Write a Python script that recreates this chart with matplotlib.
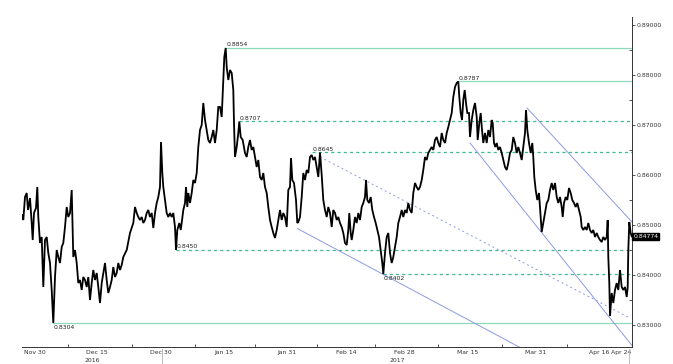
import matplotlib
matplotlib.use("Agg")
import matplotlib.pyplot as plt
import matplotlib.transforms as mtrans
from matplotlib.ticker import FixedLocator

plt.rcParams['font.family'] = ['DejaVu Sans']

# ---- price series (chart time index, EUR/GBP-like quote) ----
t = [0, 1.3, 3, 4.7, 6, 8, 9.7, 10.7, 12, 14, 15.3, 16.3, 18, 19.7, 21.3, 23, 24.7, 26.3, 28, 29.7,
     31.3, 33, 34.7, 36.3, 38, 39.7, 41.3, 43, 44.7, 46.3, 48, 49.7, 50.7, 51.3, 53, 54.7, 56.3, 58,
     59.7, 61.3, 63, 64.7, 66.3, 68, 69.7, 71.3, 73, 74.7, 76.3, 78, 79.7, 81.3, 83, 84.7, 86.3, 88,
     89.7, 91.3, 93, 94.7, 96.3, 98, 99.7, 101.3,
     104.7, 108, 111.3, 113, 114.7, 116.3, 118, 119.7, 121.3, 123, 124.7, 126.3, 128, 129.7, 131.3,
     133, 134.7, 136.3, 138, 139, 140.3, 141.3, 143, 144.7, 146.3, 148, 149.7, 151.3, 153, 154, 155.3,
     157.3, 158.7, 159.7, 161.3, 163, 164, 165.3, 166.3, 168, 169.7, 171.3, 173, 174.7, 176.3, 178,
     179.7, 181.3, 183, 184.7, 186.3, 188, 189.7, 191.3, 193, 194.7, 196.3, 198, 199.7, 201.3, 202.3,
     203.7,
     204.7, 206.3, 208, 209.7, 211.3, 212, 213, 214.7, 216.3, 217.3, 218.7, 220.7, 223, 224.7, 226.3,
     228, 229.7, 231.3, 233, 234.7, 236.3, 238, 239.7, 241.3, 243, 244.7, 246.3, 248, 249.7, 251.3,
     253, 254.7, 256.3, 258, 259.7, 261.3, 263, 264.7, 266.3, 268, 269, 270.3, 272, 274, 275.3, 276.3,
     278, 279.7, 281.3, 283, 284.7, 286.3, 288, 289.7, 291.3, 293, 294.7, 296.3, 298, 299.7, 301.3,
     303,
     304.7, 306.3, 308, 309.7, 311.3, 313, 314.7, 316.3, 318, 319.7, 321.3, 323, 324.7, 326.3, 327.3,
     328.7, 329.7, 331.3, 333, 334.7, 336.3, 338, 339.7, 341.3, 343, 344, 345.3, 347, 348.7, 350.3,
     352, 353.7, 355.3, 357, 358.7, 360.3, 361.3, 363, 364.7, 366.3, 368, 369.7, 371.3, 373, 374.7,
     376.3, 378, 379.7, 381.3, 383, 384.7, 386.3, 388, 389.7, 391.3, 393, 394.7, 396.3, 398, 399.7,
     401.3, 403,
     404.7, 406.3, 408, 409.7, 411.3, 413, 414.7, 416.3, 418, 419.7, 421.3, 423, 424.7, 426.3, 428,
     429.7, 431.3, 433, 434.7, 436.3, 437.3, 438.7, 440, 441.3, 442.7, 444, 445.3, 447, 448, 449.7,
     451.3, 453, 454.7, 455.7, 457.3, 458.7, 460, 461.3, 463, 464.7, 466.3, 468, 469.7, 470.7, 472,
     473.3, 474.7, 476.3, 478, 479.7, 481.3, 483, 484.7, 486.3, 488, 489.7, 491.3, 493, 494.7, 496.3,
     498, 499.7, 501.3, 503,
     504, 505.3, 507, 508.7, 510.3, 511.3, 512.3, 513.7, 515.3, 517, 518.7, 519.7, 521.3, 523, 524.7,
     526.3, 528, 529.7, 531.3, 533, 534.7, 536.3, 538, 539.7, 540.7, 542, 543.7, 545.3, 547, 548.7,
     550.3, 552, 553.7, 555.3, 557, 558.7, 559.7, 561.3, 563, 564.7, 566.3, 568, 569.7, 571.3, 573,
     574.7, 576.3, 578, 579.7, 581.3, 583, 584.7, 585.7, 586.3, 587.3, 588, 589.7, 591.3, 593, 594.7,
     596.3, 598, 599.7, 601.3, 603, 604.7, 605.7, 606.3, 607.3, 608.7, 609.7]

price = [0.8520, 0.8510, 0.8556, 0.8564, 0.8530, 0.8554, 0.8504, 0.8470, 0.8524, 0.8534, 0.8576,
         0.8516, 0.8464, 0.8476, 0.8376, 0.8470, 0.8476, 0.8444, 0.8424, 0.8370, 0.8304, 0.8396,
         0.8450, 0.8436, 0.8424, 0.8456, 0.8464, 0.8496, 0.8536, 0.8516, 0.8524, 0.8570, 0.8484,
         0.8436, 0.8450, 0.8424, 0.8384, 0.8390, 0.8370, 0.8396, 0.8390, 0.8376, 0.8396, 0.8350,
         0.8384, 0.8410, 0.8390, 0.8404, 0.8376, 0.8344, 0.8384, 0.8404, 0.8424, 0.8390, 0.8364,
         0.8376, 0.8390, 0.8416, 0.8396, 0.8404, 0.8424, 0.8410, 0.8420, 0.8436,
         0.8450, 0.8484, 0.8504, 0.8536, 0.8524, 0.8516, 0.8510, 0.8516, 0.8504, 0.8510, 0.8524,
         0.8530, 0.8516, 0.8524, 0.8494, 0.8524, 0.8544, 0.8556, 0.8576, 0.8666, 0.8604, 0.8576,
         0.8550, 0.8524, 0.8516, 0.8524, 0.8516, 0.8524, 0.8496, 0.8450, 0.8490, 0.8504, 0.8490,
         0.8504, 0.8530, 0.8544, 0.8576, 0.8536, 0.8564, 0.8544, 0.8564, 0.8590, 0.8584, 0.8604,
         0.8656, 0.8690, 0.8700, 0.8744, 0.8710, 0.8690, 0.8670, 0.8664, 0.8676, 0.8690, 0.8664,
         0.8690, 0.8736, 0.8736, 0.8716, 0.8790, 0.8836, 0.8854,
         0.8816, 0.8790, 0.8810, 0.8804, 0.8770, 0.8704, 0.8636, 0.8656, 0.8684, 0.8707, 0.8676,
         0.8670, 0.8644, 0.8636, 0.8656, 0.8670, 0.8650, 0.8656, 0.8636, 0.8616, 0.8630, 0.8596,
         0.8590, 0.8604, 0.8576, 0.8564, 0.8536, 0.8510, 0.8496, 0.8484, 0.8474, 0.8490, 0.8510,
         0.8530, 0.8510, 0.8524, 0.8516, 0.8496, 0.8570, 0.8576, 0.8634, 0.8590, 0.8584, 0.8550,
         0.8504, 0.8506, 0.8516, 0.8556, 0.8604, 0.8590, 0.8610, 0.8604, 0.8636, 0.8640, 0.8630,
         0.8636, 0.8616, 0.8596, 0.8645, 0.8600, 0.8550, 0.8530,
         0.8516, 0.8536, 0.8524, 0.8496, 0.8530, 0.8524, 0.8510, 0.8516, 0.8504, 0.8496, 0.8484,
         0.8464, 0.8460, 0.8490, 0.8524, 0.8484, 0.8470, 0.8490, 0.8516, 0.8504, 0.8524, 0.8510,
         0.8536, 0.8544, 0.8556, 0.8590, 0.8550, 0.8544, 0.8556, 0.8530, 0.8516, 0.8504, 0.8490,
         0.8476, 0.8450, 0.8424, 0.8402, 0.8444, 0.8476, 0.8484, 0.8444, 0.8424, 0.8436, 0.8456,
         0.8476, 0.8504, 0.8516, 0.8530, 0.8516, 0.8530, 0.8524, 0.8544, 0.8530, 0.8524, 0.8564,
         0.8584, 0.8576, 0.8570, 0.8576, 0.8590, 0.8610, 0.8636,
         0.8630, 0.8644, 0.8650, 0.8656, 0.8650, 0.8670, 0.8676, 0.8664, 0.8656, 0.8684, 0.8670,
         0.8664, 0.8684, 0.8696, 0.8710, 0.8724, 0.8756, 0.8776, 0.8784, 0.8787, 0.8756, 0.8724,
         0.8710, 0.8750, 0.8770, 0.8744, 0.8724, 0.8724, 0.8676, 0.8710, 0.8730, 0.8744, 0.8716,
         0.8670, 0.8704, 0.8724, 0.8690, 0.8664, 0.8684, 0.8664, 0.8690, 0.8676, 0.8710, 0.8704,
         0.8664, 0.8656, 0.8664, 0.8650, 0.8656, 0.8644, 0.8630, 0.8616, 0.8610, 0.8624, 0.8644,
         0.8650, 0.8676, 0.8664, 0.8644, 0.8656, 0.8644, 0.8630, 0.8656, 0.8684,
         0.8730, 0.8690, 0.8664, 0.8644, 0.8664, 0.8636, 0.8596, 0.8570, 0.8550, 0.8564, 0.8516,
         0.8486, 0.8504, 0.8524, 0.8544, 0.8550, 0.8570, 0.8584, 0.8570, 0.8584, 0.8556, 0.8544,
         0.8556, 0.8536, 0.8516, 0.8544, 0.8556, 0.8550, 0.8574, 0.8564, 0.8550, 0.8544, 0.8536,
         0.8544, 0.8530, 0.8516, 0.8496, 0.8490, 0.8496, 0.8490, 0.8504, 0.8490, 0.8484, 0.8490,
         0.8476, 0.8484, 0.8476, 0.8470, 0.8466, 0.8476, 0.8470, 0.8476, 0.8510, 0.8436, 0.8384,
         0.8318, 0.8364, 0.8344, 0.8370, 0.8384, 0.8370, 0.8410, 0.8376, 0.8370, 0.8376, 0.8356,
         0.8376, 0.8450, 0.8506, 0.8484, 0.84774]

last_price = 0.84774

# ---- horizontal support / resistance levels ----
level_values = [0.8854, 0.8787, 0.8707, 0.8645, 0.8450, 0.8402, 0.8304]
level_start = [203.7, 436.3, 217.3, 290.0, 154.0, 361.3, 31.3]
level_dashed = [False, False, True, True, True, True, False]
level_label_above = [True, True, True, True, True, False, False]

# ---- trend lines (start t, start price, end t, end price) ----
trend_t0 = [275.3, 298.0, 448.0, 505.0]
trend_p0 = [0.8493, 0.8636, 0.8664, 0.8734]
trend_t1 = [500.0, 606.0, 610.0, 610.0]
trend_p1 = [0.8253, 0.8316, 0.8259, 0.8506]
trend_dashed = [False, True, False, False]

# ---- axis ticks ----
xtick_pos = [13, 75, 139, 202, 265, 324, 382, 446, 514, 577, 599]
xtick_labels = ["Nov 30", "Dec 15", "Dec 30", "Jan 15", "Jan 31", "Feb 14", "Feb 28",
                "Mar 15", "Mar 31", "Apr 16", "Apr 24"]
xminor_pos = [46, 110, 173, 233, 295, 353, 416, 480, 545]
year_labels = ["2016", "2017"]
year_pos = [70, 375]
year_sep = [140, 607]
yticks = [0.83, 0.84, 0.85, 0.86, 0.87, 0.88, 0.89]
yminor = [0.835, 0.845, 0.855, 0.865, 0.875, 0.885]

FS = 4.4
GREEN_SOLID = "#8fd9bb"
GREEN_DASH = "#3dbb8c"
BLUE = "#8d9ae0"

fig = plt.figure(figsize=(6.73, 3.64), dpi=100)
ax = fig.add_axes([22 / 673, 17 / 364, 610 / 673, 330 / 364])
ax.set_xlim(0, 610)
ax.set_ylim(0.8256, 0.8916)

for v, s, d, above in zip(level_values, level_start, level_dashed, level_label_above):
    if d:
        ax.plot([s, 610], [v, v], color=GREEN_DASH, lw=0.9, ls=(0, (2.5, 2.5)), zorder=1)
    else:
        ax.plot([s, 610], [v, v], color=GREEN_SOLID, lw=0.9, zorder=1)
    ax.annotate(f"{v:.4f}", (s, v), xytext=(0.5, 0.6 if above else -1.2),
                textcoords="offset points", fontsize=FS, color="#222222",
                va="bottom" if above else "top", ha="left", zorder=3)

for a0, p0, a1, p1, d in zip(trend_t0, trend_p0, trend_t1, trend_p1, trend_dashed):
    ax.plot([a0, a1], [p0, p1], color=BLUE, lw=0.7,
            ls=(0, (2, 3)) if d else "-", zorder=1)

ax.plot(t, price, color="black", lw=1.3, zorder=2, solid_joinstyle="miter")

# spines
for side in ["left", "top"]:
    ax.spines[side].set_visible(False)
ax.spines["right"].set_color("#333333")
ax.spines["bottom"].set_color("#333333")
ax.spines["right"].set_linewidth(0.7)
ax.spines["bottom"].set_linewidth(0.7)

ax.yaxis.tick_right()
ax.set_yticks(yticks)
ax.set_yticklabels([f"{v:.5f}" for v in yticks])
ax.yaxis.set_minor_locator(FixedLocator(yminor))
ax.tick_params(axis="y", which="major", length=2.5, width=0.6, pad=1, labelsize=FS,
               colors="#333333")
ax.tick_params(axis="y", which="minor", direction="in", length=2, width=0.6, colors="#333333")

ax.set_xticks(xtick_pos)
ax.set_xticklabels(xtick_labels)
ax.xaxis.set_minor_locator(FixedLocator(xminor_pos))
ax.tick_params(axis="x", which="major", length=0, pad=2, labelsize=FS, colors="#333333")
ax.tick_params(axis="x", which="minor", direction="in", length=2, width=0.6, colors="#333333")

trans = mtrans.blended_transform_factory(ax.transData, ax.transAxes)
for lab, pos in zip(year_labels, year_pos):
    ax.text(pos, -0.046, lab, transform=trans, fontsize=FS, ha="center", va="baseline",
            color="#333333")
for pos in year_sep:
    ax.plot([pos, pos], [-0.005, -0.06], transform=trans, color="#bbbbbb", lw=0.7,
            clip_on=False)

transy = mtrans.blended_transform_factory(ax.transAxes, ax.transData)
ax.text(1.002, last_price, f"{last_price:.5f}", transform=transy, fontsize=FS, color="white",
        va="center", ha="left",
        bbox=dict(boxstyle="square,pad=0.15", fc="black", ec="black"))

fig.savefig("out.png", dpi=100, facecolor="white")
